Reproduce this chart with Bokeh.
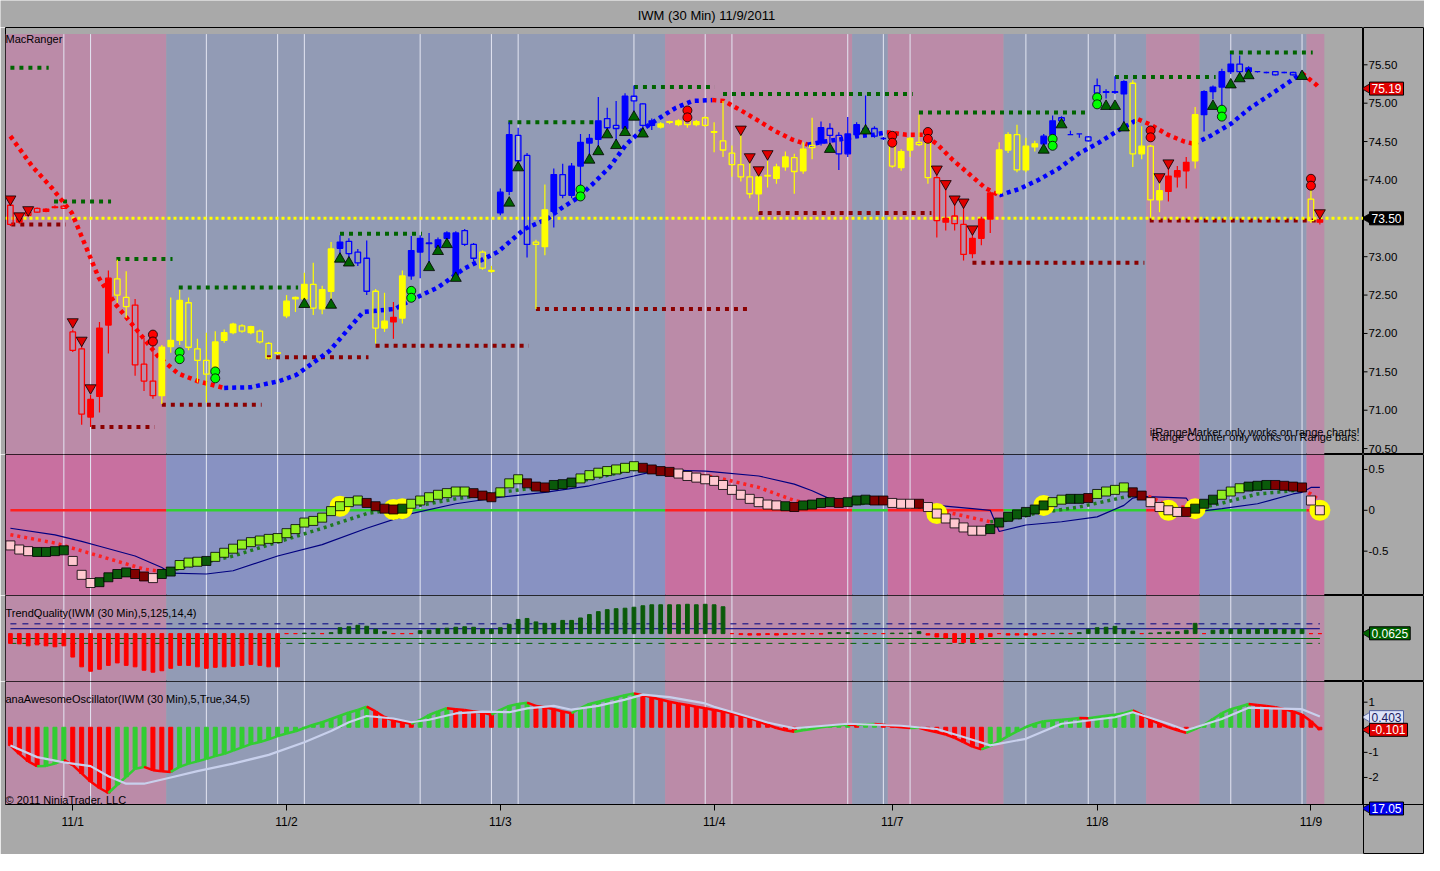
import numpy as np
from bokeh.plotting import figure
from bokeh.layouts import column, row
from bokeh.models import Range1d, FixedTicker, Label
from bokeh.core.properties import value
from bokeh.embed import file_html
from bokeh.resources import INLINE

FONT = "Liberation Sans"
GRAY = "#a9a9a9"

# ---------------- data ----------------
title_text = "IWM (30 Min)  11/9/2011"
day_labels = ["11/1", "11/2", "11/3", "11/4", "11/7", "11/8", "11/9"]
day_ticks = [7, 31, 55, 79, 99, 122, 146]
grid_x = [6, 9, 22, 30, 33, 46, 54, 57, 70, 78, 81, 94, 98, 101, 114, 121, 124, 137, 145]

band_start = [-0.55, 17.5, 73.5, 94.5, 98.5, 111.5, 127.5, 133.5, 145.5]
band_end = [17.5, 73.5, 94.5, 98.5, 111.5, 127.5, 133.5, 145.5, 147.5]
band_state = ["dn", "up", "dn", "up", "dn", "up", "dn", "up", "dn"]

open_ = [73.67, 73.45, 73.58, 73.63, 73.59, 73.64, 73.66, 72.02, 71.80, 70.91,
         71.18, 72.11, 72.71, 72.47, 72.37, 71.60, 71.38, 71.19, 71.83, 71.91,
         72.40, 71.80, 71.65, 71.52, 71.91, 72.01, 72.10, 72.01, 72.03, 71.87,
         71.74, 72.23, 72.45, 72.45, 72.64, 72.32, 72.55, 73.11, 73.20, 73.06,
         72.98, 72.55, 72.07, 72.15, 72.20, 72.75, 73.06, 73.17, 73.12, 73.24,
         72.76, 73.34, 73.16, 73.06, 72.82, 73.57, 73.85, 74.58, 74.32, 73.19,
         73.13, 73.59, 74.07, 73.80, 74.18, 74.48, 74.53, 74.80, 74.71, 74.67,
         75.09, 74.99, 74.71, 74.69, 74.75, 74.72, 74.78, 74.72, 74.81, 74.62,
         74.51, 74.35, 74.20, 74.04, 73.82, 74.05, 74.02, 74.17, 74.29, 74.12,
         74.45, 74.48, 74.67, 74.58, 74.34, 74.59, 74.67, 74.67, 74.54, 74.45,
         74.16, 74.39, 74.49, 74.48, 74.03, 73.45, 73.53, 73.42, 73.04, 73.24,
         73.49, 73.83, 74.39, 74.59, 74.13, 74.43, 74.47, 74.59, 74.81, 74.59,
         74.60, 74.56, 75.23, 75.14, 75.14, 75.12, 75.26, 74.34, 74.44, 73.74,
         73.85, 74.04, 74.12, 74.25, 74.85, 75.15, 75.21, 75.41, 75.51, 75.41,
         75.41, 75.40, 75.41, 75.40, 75.40, 75.36, 73.75, 73.45]
high_ = [73.70, 73.53, 73.60, 73.64, 73.63, 73.67, 73.68, 72.05, 71.85, 71.20,
         72.15, 72.82, 72.96, 72.81, 72.45, 71.94, 71.85, 71.85, 72.47, 72.57,
         72.47, 71.93, 72.01, 72.03, 72.05, 72.14, 72.12, 72.10, 72.05, 71.89,
         71.76, 72.50, 72.48, 72.79, 72.92, 72.62, 73.19, 73.28, 73.24, 73.10,
         73.21, 72.58, 72.53, 72.41, 72.82, 73.27, 73.28, 73.31, 73.25, 73.33,
         73.33, 73.36, 73.18, 73.08, 72.88, 73.89, 74.75, 74.68, 74.35, 73.22,
         73.94, 74.15, 74.21, 74.22, 74.60, 74.60, 75.08, 74.94, 75.03, 75.13,
         75.23, 75.00, 74.80, 74.75, 74.77, 74.79, 74.80, 74.78, 74.83, 74.75,
         75.03, 74.45, 74.62, 74.25, 74.08, 74.25, 74.21, 74.37, 74.34, 74.49,
         74.81, 74.76, 74.74, 74.62, 74.82, 74.75, 75.10, 74.70, 74.56, 74.50,
         74.40, 74.56, 74.85, 74.52, 74.06, 73.92, 73.70, 73.68, 73.28, 73.52,
         73.85, 74.49, 74.62, 74.72, 74.55, 74.51, 74.60, 74.84, 74.83, 74.64,
         74.60, 74.57, 75.32, 75.18, 75.35, 75.30, 75.30, 74.70, 74.46, 74.00,
         74.18, 74.18, 74.30, 74.95, 75.17, 75.23, 75.45, 75.64, 75.62, 75.48,
         75.42, 75.41, 75.42, 75.41, 75.41, 75.38, 73.95, 73.52]
low_ = [73.40, 73.43, 73.52, 73.57, 73.58, 73.63, 73.62, 71.76, 70.81, 70.78,
        70.97, 71.74, 72.40, 72.20, 71.45, 71.25, 71.15, 71.08, 71.75, 71.85,
        71.78, 71.36, 71.10, 71.45, 71.88, 71.99, 72.01, 71.99, 71.87, 71.66,
        71.73, 72.20, 72.28, 72.38, 72.24, 72.25, 72.45, 73.00, 72.95, 72.88,
        72.50, 71.87, 72.02, 71.93, 72.13, 72.70, 72.72, 72.85, 73.05, 73.20,
        72.72, 73.14, 72.94, 72.83, 72.79, 73.54, 73.80, 74.20, 72.99, 72.32,
        73.02, 73.38, 73.76, 73.76, 73.92, 74.30, 74.41, 74.61, 74.46, 74.62,
        74.85, 74.62, 74.65, 74.67, 74.73, 74.70, 74.68, 74.70, 74.69, 74.36,
        74.30, 74.04, 73.98, 73.76, 73.59, 73.90, 73.95, 74.12, 73.82, 74.08,
        74.27, 74.45, 74.47, 74.13, 74.30, 74.55, 74.60, 74.55, 74.52, 74.16,
        74.12, 74.30, 74.44, 73.95, 73.25, 73.34, 73.34, 72.95, 72.98, 73.15,
        73.31, 73.80, 74.35, 74.10, 74.10, 74.37, 74.44, 74.55, 74.76, 74.59,
        74.55, 74.50, 75.10, 75.06, 75.12, 74.69, 74.17, 74.27, 73.51, 73.58,
        73.72, 73.90, 73.89, 74.15, 74.63, 75.05, 74.83, 75.38, 75.38, 75.39,
        75.40, 75.39, 75.36, 75.39, 75.36, 75.34, 73.44, 73.42]
close_ = [73.42, 73.50, 73.54, 73.58, 73.62, 73.65, 73.63, 71.78, 70.95, 71.14,
          72.07, 72.72, 72.50, 72.35, 71.59, 71.38, 71.19, 71.82, 71.91, 72.43,
          71.82, 71.65, 71.47, 71.89, 72.01, 72.12, 72.03, 72.09, 71.89, 71.68,
          71.75, 72.42, 72.47, 72.64, 72.33, 72.57, 73.10, 73.19, 73.04, 72.92,
          72.55, 72.07, 72.16, 72.21, 72.75, 73.08, 73.24, 73.18, 73.22, 73.31,
          73.31, 73.16, 72.98, 72.85, 72.81, 73.84, 74.59, 74.25, 73.16, 73.16,
          73.61, 74.07, 73.80, 74.18, 74.49, 74.54, 74.77, 74.68, 74.67, 75.09,
          75.03, 74.71, 74.77, 74.73, 74.76, 74.77, 74.72, 74.76, 74.71, 74.63,
          74.39, 74.20, 74.04, 73.82, 74.04, 74.06, 74.17, 74.30, 74.11, 74.40,
          74.42, 74.68, 74.58, 74.34, 74.60, 74.72, 74.64, 74.57, 74.54, 74.18,
          74.37, 74.54, 74.46, 74.03, 73.47, 73.50, 73.43, 73.03, 73.24, 73.49,
          73.83, 74.39, 74.59, 74.13, 74.44, 74.47, 74.57, 74.77, 74.77, 74.59,
          74.60, 74.51, 75.13, 75.15, 75.15, 75.28, 74.34, 74.44, 73.74, 73.86,
          74.05, 74.12, 74.23, 74.85, 75.15, 75.21, 75.41, 75.51, 75.41, 75.46,
          75.41, 75.40, 75.37, 75.40, 75.37, 75.36, 73.47, 73.48]
candle_codes = ("RRRRRRRRRRRR" "YY" "RRR" "YYYYYYYYYYYYYYYYYYYY" "BBBB" "YY" "R" "Y"
                "BBBBBBBB" "YY" "BBBB" "YY" "BBBBBBBBBBBB" "YYYYYYYYYYYYYYYYYY"
                "BBBBBBBB" "YYYYY" "RRRRRRR" "YYYYY" "BBBBBBBBBB" "YYYY" "RRR" "Y"
                "BBBBBBBBBBBB" "Y" "R")

price_ticks = [70.5, 71.0, 71.5, 72.0, 72.5, 73.0, 73.5, 74.0, 74.5, 75.0, 75.5]

# support / resistance levels: (price, from bar, to bar)
res_y = [75.46, 73.72, 72.97, 72.60, 73.30, 74.75, 75.21, 75.12, 74.88, 75.34, 75.66]
res_x0 = [0, 4.9, 11.9, 18.9, 37, 55.9, 70, 80, 102, 124, 136.9]
res_x1 = [4.3, 11.3, 18.2, 32.3, 46.2, 65.8, 79.1, 101.3, 121.2, 135.3, 146.2]
sup_y = [73.42, 70.78, 71.07, 71.69, 71.84, 72.32, 73.57, 72.92, 73.47]
sup_x0 = [0.1, 9.1, 17, 28.8, 41, 59, 84, 108, 127.9]
sup_x1 = [6.2, 16.2, 28.2, 40.2, 58.2, 83.2, 103.4, 127.3, 146.9]

# trend line readings
trend_x = [0, 2.5, 4.7, 6.9, 8.4, 9.9, 11.8, 14.3, 16.6, 18.8, 21, 24,
           27, 30.2, 32.1, 35.8, 39.6, 43.2, 44.7, 48, 51, 54.7, 57.7, 60.4, 61.7, 63.6,
           65.4, 67.3, 69.1, 71, 72.9, 74.7, 76.6, 78.8,
           80.1, 82.1, 84, 85.8, 87.7, 89.5,
           91.4, 93.2, 95.1, 96.9, 98.4,
           100.6, 102.5, 104, 105.8, 107.7, 109.5, 111,
           113.2, 115.4, 117.7, 119.9, 122.1, 124.3, 126.6,
           128, 129.9, 131.8, 132.9,
           134.8, 137, 139.2, 141.3, 143.6, 145,
           146.6, 147]
trend_y = [74.57, 74.17, 73.89, 73.57, 73.15, 72.73, 72.38, 72.03, 71.70, 71.48, 71.38, 71.29,
           71.30, 71.38, 71.46, 71.77, 72.28, 72.32, 72.42, 72.60, 72.85, 73.06, 73.36, 73.50,
           73.62, 73.76, 73.95, 74.17, 74.46, 74.66, 74.81, 74.94, 75.03, 75.04,
           75.03, 74.90, 74.77, 74.64, 74.53, 74.46,
           74.50, 74.53, 74.57, 74.59, 74.62,
           74.59, 74.59, 74.47, 74.26, 74.07, 73.89, 73.80,
           73.88, 74.00, 74.15, 74.34, 74.48, 74.64, 74.79,
           74.72, 74.59, 74.50, 74.47,
           74.58, 74.73, 74.94, 75.10, 75.28, 75.39,
           75.24, 75.19]
trend_codes = "R" * 12 + "B" * 22 + "R" * 6 + "B" * 5 + "R" * 7 + "B" * 7 + "R" * 4 + "B" * 6 + "R" * 2

ref_level = 73.50
trend_last = 75.19

dn_tri_x = [0, 1, 2, 7, 8, 9, 82, 83, 84, 85, 104, 105, 106, 107, 108, 129, 130, 147]
dn_tri_y = [73.75, 73.53, 73.61, 72.15, 71.91, 71.29, 74.66, 74.30, 74.13, 74.34,
            74.14, 73.95, 73.75, 73.71, 73.36, 74.04, 74.22, 73.57]
up_tri_x = [33, 36, 37, 38, 47, 48, 49, 50, 56, 57, 65, 66, 67, 68, 69, 70, 71, 92, 96,
            116, 118, 123, 124, 125, 135, 137, 138, 139, 145]
up_tri_y = [72.38, 72.37, 72.97, 72.92, 72.86, 73.07, 73.16, 72.72, 73.70, 74.16,
            74.26, 74.37, 74.59, 74.45, 74.62, 74.82, 74.60, 74.40, 74.64, 74.39,
            74.72, 74.96, 74.96, 74.68, 74.96, 75.24, 75.32, 75.36, 75.35]
red_circ_x = [16, 76, 99, 103, 128, 146]
red_circ_y = [71.94, 74.86, 74.53, 74.58, 74.60, 73.97]
grn_circ_x = [19, 23, 45, 64, 117, 122, 136]
grn_circ_y = [71.71, 71.46, 72.51, 73.83, 74.49, 75.03, 74.87]

# oscillator panel
osc = [-0.43, -0.48, -0.50, -0.51, -0.51, -0.50, -0.49, -0.62, -0.79, -0.89,
       -0.88, -0.82, -0.78, -0.76, -0.78, -0.81, -0.83, -0.78, -0.75, -0.67,
       -0.64, -0.63, -0.62, -0.57, -0.52, -0.47, -0.42, -0.39, -0.37, -0.35,
       -0.34, -0.28, -0.23, -0.15, -0.13, -0.09, -0.01, 0.05, 0.10, 0.12,
       0.09, 0.05, 0.02, 0.01, 0.02, 0.08, 0.12, 0.16, 0.19, 0.21,
       0.23, 0.23, 0.21, 0.18, 0.16, 0.22, 0.33, 0.38, 0.33, 0.29,
       0.28, 0.31, 0.32, 0.34, 0.39, 0.43, 0.46, 0.48, 0.50, 0.52,
       0.54, 0.52, 0.50, 0.48, 0.47, 0.45, 0.42, 0.40, 0.38, 0.36,
       0.31, 0.25, 0.19, 0.14, 0.10, 0.07, 0.06, 0.05, 0.04, 0.06,
       0.07, 0.09, 0.10, 0.09, 0.10, 0.12, 0.13, 0.12, 0.12, 0.09,
       0.08, 0.08, 0.08, 0.04, -0.04, -0.10, -0.16, -0.21, -0.25, -0.25,
       -0.23, -0.15, -0.08, -0.05, -0.02, 0.01, 0.06, 0.10, 0.13, 0.14,
       0.14, 0.15, 0.20, 0.23, 0.25, 0.28, 0.22, 0.18, 0.10, 0.04,
       0.00, -0.02, -0.02, 0.02, 0.08, 0.13, 0.19, 0.23, 0.27, 0.29,
       0.30, 0.31, 0.31, 0.30, 0.29, 0.28, 0.12, 0.00]
osc_codes = ("PPP" "DDDD" "PPP" "DDDD" "RR" "P" "DD" "LLL" "D" "LLLLLLLLLLLLLLLLL"
             "RRRR" "D" "LLLLLLL" "RRR" "LLL" "RRR" "DDD" "LLLLLLL" "RRRR" "PPPP"
             "PPPPPPPP" "D" "R" "DDDD" "R" "DDD" "RR" "PPP" "R" "PPPPPPP" "DDDDDDD"
             "LL" "DD" "R" "LLLL" "RR" "PPPP" "R" "DDD" "LLL" "DDD" "RRRR" "PP")
osc_ticks = [0.5, 0, -0.5]
osc_tick_labels = ["0.5", "0", "-0.5"]
sig_x = [0, 5, 10, 15, 17, 18, 20, 25, 30, 35, 40, 45, 50, 55, 60, 65, 70, 73, 75, 78,
         79, 84, 88, 90, 94, 98, 100, 105, 110, 112, 115, 120, 125, 127, 128, 130, 133,
         135, 140, 145, 146, 147]
sig_y = [-0.30, -0.40, -0.56, -0.72, -0.75, -0.74, -0.68, -0.56, -0.39, -0.22,
         -0.04, 0.04, 0.14, 0.22, 0.29, 0.38, 0.50, 0.50, 0.47, 0.42,
         0.41, 0.28, 0.12, 0.08, 0.08, 0.09, 0.06, -0.02, -0.14, -0.12,
         -0.04, 0.04, 0.16, 0.20, 0.16, 0.06, 0.02, 0.06, 0.20, 0.25, 0.20, 0.12]
nav_x = [0, 5, 8, 10, 14, 17, 18, 22, 25, 30, 35, 40, 45, 50, 55, 60, 65, 70, 72, 75,
         78, 79, 84, 88, 90, 92, 96, 100, 104, 108, 110, 111, 114, 118, 122, 125, 126,
         127, 132, 133, 136, 140, 144, 145, 146, 147]
nav_y = [-0.22, -0.30, -0.38, -0.44, -0.56, -0.70, -0.77, -0.78, -0.74, -0.56,
         -0.42, -0.22, -0.04, 0.08, 0.16, 0.22, 0.30, 0.42, 0.47, 0.49,
         0.48, 0.47, 0.42, 0.32, 0.24, 0.14, 0.12, 0.10, 0.06, 0.02,
         0.00, -0.26, -0.18, -0.14, -0.08, 0.06, 0.15, 0.17, 0.15, -0.02,
         0.02, 0.08, 0.20, 0.22, 0.28, 0.28]
hl_x = [37, 43, 44, 104, 116, 130, 133, 147]

# TrendQuality panel
tq = [-2.0, -2.1, -2.5, -2.3, -2.5, -2.7, -2.5, -4.8, -6.8, -7.7,
      -7.3, -6.5, -6.0, -6.5, -6.8, -7.5, -7.9, -7.6, -7.1, -6.5,
      -6.5, -6.8, -7.1, -6.9, -6.8, -6.7, -6.5, -6.3, -6.5, -6.8,
      -6.8, 0, 0, 0.1, 0.1, 0, 0.2, 1.2, 1.4, 1.7,
      1.5, 0.9, 0.4, 0, 0, 0, 0.6, 0.7, 1.0, 1.1,
      1.3, 1.4, 1.3, 1.0, 0.9, 1.2, 1.9, 2.9, 3.1, 2.4,
      2.1, 2.1, 2.7, 2.7, 3.2, 3.9, 4.5, 4.9, 5.1, 5.2,
      5.4, 5.7, 5.9, 5.9, 5.9, 5.9, 6.0, 5.9, 6.0, 5.9,
      5.5, 0, -0.2, -0.3, -0.3, -0.2, -0.3, -0.2, -0.1, -0.1,
      0, -0.1, 0.2, 0.2, 0.2, 0.1, 0, 0, 0, 0.1,
      0.1, 0.1, 0.4, -0.3, -0.7, -0.9, -1.8, -1.8, -1.8, -1.1,
      -0.6, 0, -0.3, -0.3, -0.3, -0.3, 0, 0, 0.1, 0,
      0.2, 0.9, 1.2, 1.3, 1.5, 0.9, 0.5, 0, 0.1, 0.2,
      0.3, 0.4, 0.7, 2.1, 0, 0.7, 0.8, 0.9, 0.9, 0.9,
      0.9, 0.9, 0.9, 0.9, 0.9, 0.9, 0, 0]
tq_levels = [2, 1, -1, -2]
tq_last = 0.0625

# Awesome oscillator panel
ao = [-0.73, -1.06, -1.36, -1.55, -1.54, -1.45, -1.31, -1.51, -1.84, -2.16,
      -2.42, -2.62, -2.29, -1.97, -1.65, -1.58, -1.71, -1.75, -1.78, -1.58,
      -1.45, -1.36, -1.26, -1.15, -1.06, -0.93, -0.80, -0.67, -0.59, -0.48,
      -0.35, -0.25, -0.16, -0.03, 0.10, 0.20, 0.33, 0.46, 0.59, 0.69,
      0.82, 0.63, 0.41, 0.27, 0.20, 0.14, 0.29, 0.49, 0.63, 0.76,
      0.72, 0.69, 0.63, 0.59, 0.50, 0.69, 0.85, 0.93, 0.98, 0.85,
      0.80, 0.72, 0.63, 0.56, 0.76, 0.93, 1.02, 1.11, 1.19, 1.28,
      1.35, 1.28, 1.19, 1.11, 1.02, 0.95, 0.89, 0.82, 0.76, 0.69,
      0.63, 0.56, 0.46, 0.37, 0.24, 0.10, -0.03, -0.12, -0.18, -0.12,
      -0.07, 0.00, 0.04, 0.08, 0.10, 0.09, 0.12, 0.13, 0.10, 0.04,
      0.00, -0.03, -0.02, -0.12, -0.20, -0.29, -0.42, -0.59, -0.77, -0.88,
      -0.75, -0.55, -0.35, -0.16, 0.01, 0.14, 0.24, 0.27, 0.30, 0.33,
      0.37, 0.36, 0.41, 0.46, 0.50, 0.56, 0.67, 0.50, 0.30, 0.14,
      0.00, -0.12, -0.22, -0.07, 0.10, 0.33, 0.56, 0.72, 0.82, 0.93,
      0.89, 0.85, 0.80, 0.72, 0.63, 0.50, 0.24, -0.10]
ao_ticks = [1, -1, -2]
ao_sig_x = [0, 3, 6, 9, 11, 13, 15, 18, 21, 25, 29, 33, 36, 38, 40, 43, 45, 47, 50, 53,
            56, 58, 61, 63, 66, 69, 71, 74, 78, 79, 85, 88, 94, 100, 104, 107, 110, 114,
            118, 124, 126, 130, 132, 136, 139, 145, 147]
ao_sig_y = [-0.73, -1.19, -1.40, -1.55, -1.95, -2.25, -2.25, -2.0, -1.75, -1.45,
            -1.1, -0.6, -0.15, 0.2, 0.45, 0.35, 0.2, 0.3, 0.55, 0.62,
            0.6, 0.75, 0.85, 0.7, 0.85, 1.1, 1.3, 1.2, 0.95, 0.82,
            0.19, -0.04, 0.14, 0.06, -0.07, -0.39, -0.72, -0.46, 0.14, 0.40,
            0.60, 0.14, -0.12, 0.33, 0.78, 0.72, 0.43]
ao_sig_last = 0.403
ao_last = -0.101
bottom_flag = "17.05"

# ---------------- helpers ----------------
n = len(close_)
idx = np.arange(n)
xr = Range1d(-0.55, 151.9)
FW = 1358
SW = 61          # width of the price-scale strip at the right


def state_at(x):
    for s, e, st in zip(band_start, band_end, band_state):
        if s <= x < e:
            return st
    return band_state[-1]


def runs(xs, ys, codes):
    out = []
    cur_c, cx, cy = codes[0], [xs[0]], [ys[0]]
    for i in range(1, len(xs)):
        if codes[i] != cur_c:
            out.append((cur_c, cx, cy))
            cur_c, cx, cy = codes[i], [xs[i - 1]], [ys[i - 1]]
        cx.append(xs[i])
        cy.append(ys[i])
    out.append((cur_c, cx, cy))
    return out


def make_fig(h, yr, xaxis=False):
    p = figure(frame_width=FW, frame_height=h, x_range=xr, y_range=yr,
               output_backend="svg", toolbar_location=None,
               x_axis_location="below" if xaxis else None, y_axis_location=None,
               min_border_left=5, min_border_right=0, min_border_top=0,
               min_border_bottom=50 if xaxis else 0)
    p.background_fill_color = GRAY
    p.border_fill_color = GRAY
    p.outline_line_color = "black"
    p.outline_line_width = 1
    p.grid.visible = False
    return p


def scale_strip(h, yr, ticks, labels):
    """Right-hand price scale strip sharing the panel's y scale."""
    s = figure(frame_width=SW, frame_height=h, x_range=Range1d(0, SW), y_range=yr,
               output_backend="svg", toolbar_location=None, x_axis_location=None,
               y_axis_location=None, min_border=0)
    s.background_fill_color = GRAY
    s.border_fill_color = GRAY
    s.outline_line_color = "black"
    s.grid.visible = False
    if ticks:
        s.segment(x0=0, x1=4, y0=ticks, y1=ticks, color="black", line_width=1)
        s.text(x=5, y=ticks, text=labels, text_font=value(FONT), text_font_size="11.5px",
               text_baseline="middle", text_color="black")
    return s


def flag(s, y, text, bg, fg="white", border="black"):
    s.scatter([4.5], [y], marker="triangle", angle=np.pi / 2, size=11, fill_color=bg,
              line_color=border, line_width=0.8)
    s.add_layout(Label(x=6, y=y, text=text, text_font=FONT, text_font_size="12px",
                       text_color=fg, text_baseline="middle", background_fill_color=bg,
                       border_line_color=border, padding=2))


def add_bands(p, pink, blue, top=None):
    yb = p.y_range.start
    yt = p.y_range.end if top is None else top
    cols = [pink if s == "dn" else blue for s in band_state]
    p.quad(left=band_start, right=band_end, bottom=yb, top=yt, color=cols, line_color=None)
    p.segment(x0=grid_x, x1=grid_x, y0=yb, y1=yt, color="#e4e6f2", line_width=1)


PINK = "#bb8ba8"
BLUE = "#929bb5"

# ---------------- title ----------------
tfig = figure(frame_width=FW + 5 + SW, frame_height=27, x_range=Range1d(0, 1), y_range=Range1d(0, 1),
              output_backend="svg", toolbar_location=None, x_axis_location=None,
              y_axis_location=None, min_border=0)
tfig.background_fill_color = GRAY
tfig.border_fill_color = GRAY
tfig.outline_line_color = None
tfig.grid.visible = False
tfig.add_layout(Label(x=0.497, y=0.45, text=title_text, text_align="center", text_baseline="middle",
                      text_font=FONT, text_font_size="13px", text_color="black"))

# ---------------- price panel ----------------
price_range = Range1d(70.423, 75.986)
pp = make_fig(427, price_range)
add_bands(pp, PINK, BLUE, top=75.90)

pp.segment(x0=res_x0, x1=res_x1, y0=res_y, y1=res_y, color="#006400", line_width=4,
           line_dash="4 5")
pp.segment(x0=sup_x0, x1=sup_x1, y0=sup_y, y1=sup_y, color="#8b0000", line_width=4,
           line_dash="4 5")
pp.line([xr.start, xr.end], [ref_level, ref_level], color="#ffff00", line_width=3, line_dash="3 3")
for c, xs, ys in runs(trend_x, trend_y, trend_codes):
    pp.line(xs, ys, color="#ff0000" if c == "R" else "#0000ff", line_width=4.5, line_dash="4 4")

cmap = {"R": "#ff0000", "Y": "#ffff00", "B": "#0000ff"}
ccol = [cmap[c] for c in candle_codes]
o = np.array(open_)
cl = np.array(close_)
btop = np.maximum(o, cl)
bbot = np.minimum(o, cl)
falpha = [1.0 if cc > oo else 0.0 for oo, cc in zip(open_, close_)]
pp.segment(x0=idx, x1=idx, y0=btop, y1=np.array(high_), color=ccol, line_width=1.2)
pp.segment(x0=idx, x1=idx, y0=np.array(low_), y1=bbot, color=ccol, line_width=1.2)
pp.vbar(x=idx, top=btop, bottom=bbot, width=0.62, fill_color=ccol, fill_alpha=falpha,
        line_color=ccol, line_width=1.3)

pp.scatter(dn_tri_x, dn_tri_y, marker="inverted_triangle", size=11, fill_color="#e00000",
           line_color="black", line_width=0.8)
pp.scatter(up_tri_x, up_tri_y, marker="triangle", size=11, fill_color="#006400",
           line_color="black", line_width=0.8)
for dy in (0.045, -0.045):
    pp.scatter(red_circ_x, [v + dy for v in red_circ_y], marker="circle", size=9,
               fill_color="#ff0000", line_color="black", line_width=0.8)
    pp.scatter(grn_circ_x, [v + dy for v in grn_circ_y], marker="circle", size=9,
               fill_color="#00ff00", line_color="black", line_width=0.8)

pp.add_layout(Label(x=xr.start, y=price_range.end, x_offset=0, y_offset=-5, text="MacRanger",
                    text_font=FONT, text_font_size="11px", text_baseline="top", text_color="black"))
pp.add_layout(Label(x=xr.end, y=70.64, x_offset=-4, text="itRangeMarker only works on range charts!",
                    text_font=FONT, text_font_size="11px", text_align="right",
                    text_baseline="bottom", text_color="black"))
pp.add_layout(Label(x=xr.end, y=70.57, x_offset=-4, text="Range Counter only works on Range bars.",
                    text_font=FONT, text_font_size="11px", text_align="right",
                    text_baseline="bottom", text_color="black"))

sp = scale_strip(427, price_range, price_ticks, [f"{t:.2f}" for t in price_ticks])
flag(sp, trend_last, f"{trend_last:.2f}", "#e00000")
flag(sp, ref_level, f"{ref_level:.2f}", "#000000")

# ---------------- oscillator panel ----------------
osc_range = Range1d(-1.043, 0.683)
po = make_fig(141, osc_range)
add_bands(po, "#c870a0", "#8892c2")
for s, e, st in zip(band_start, band_end, band_state):
    po.line([max(s, 0), min(e, n - 1)], [0, 0], color="#ff2020" if st == "dn" else "#30d030",
            line_width=2.5)
po.line(nav_x, nav_y, color="#000080", line_width=1.2)
sig_codes = [state_at(x) for x in sig_x]
for c, xs, ys in runs(sig_x, sig_y, sig_codes):
    po.line(xs, ys, color="#ff2020" if c == "dn" else "#1f7a1f", line_width=3.5, line_dash="3 4")
po.scatter(hl_x, [osc[i] for i in hl_x], marker="circle", size=21, fill_color="#ffff00",
           line_color=None)
ocmap = {"P": "#ffc8d0", "D": "#0a5a0a", "L": "#90f020", "R": "#800000"}
po.scatter(idx, osc, marker="square", size=9, fill_color=[ocmap[c] for c in osc_codes],
           line_color="black", line_width=0.8)
so = scale_strip(141, osc_range, osc_ticks, osc_tick_labels)

# ---------------- trend quality panel ----------------
tq_range = Range1d(-9.8, 7.8)
pq = make_fig(86, tq_range)
add_bands(pq, PINK, BLUE)
lvl_col = ["#000080", "#000080", "#006400", "#006400"]
lvl_dash = ["dashed", "solid", "solid", "dashed"]
for lv, lc, ld in zip(tq_levels, lvl_col, lvl_dash):
    pq.line([0, n - 1], [lv, lv], color=lc, line_width=1, line_dash=ld)
tq_cols = ["#0a5a0a" if v > 0 else "#ff0000" for v in tq]
pq.vbar(x=idx, top=tq, bottom=0, width=0.42, color=tq_cols)
pq.add_layout(Label(x=xr.start, y=tq_range.end, x_offset=0, y_offset=-11,
                    text="TrendQuality(IWM (30 Min),5,125,14,4)", text_font=FONT,
                    text_font_size="11px", text_baseline="top", text_color="black"))
sq = scale_strip(86, tq_range, [], [])
flag(sq, tq_last, f"{tq_last:.4f}", "#006400")

# ---------------- awesome oscillator panel ----------------
ao_range = Range1d(-3.078, 1.824)
AOH = 123
AXH = 50
pa = make_fig(AOH, ao_range, xaxis=True)
add_bands(pa, PINK, BLUE)
ao_cols = ["#32cd32" if (i > 0 and ao[i] > ao[i - 1]) else "#ff0000" for i in range(n)]
pa.vbar(x=idx, top=ao, bottom=0, width=0.45, color=ao_cols)
pa.segment(x0=idx[:-1], y0=ao[:-1], x1=idx[1:], y1=ao[1:], color=ao_cols[1:], line_width=2.5)
pa.line(ao_sig_x, ao_sig_y, color="#c8d0ec", line_width=2.2)
pa.add_layout(Label(x=xr.start, y=ao_range.end, x_offset=0, y_offset=-11,
                    text="anaAwesomeOscillator(IWM (30 Min),5,True,34,5)", text_font=FONT,
                    text_font_size="11px", text_baseline="top", text_color="black"))
pa.add_layout(Label(x=xr.start, y=ao_range.start, x_offset=0, y_offset=-1,
                    text="\u00a9 2011 NinjaTrader, LLC", text_font=FONT,
                    text_font_size="11px", text_baseline="bottom", text_color="black"))
pa.xaxis.ticker = FixedTicker(ticks=day_ticks)
pa.xaxis.major_label_overrides = {t: l for t, l in zip(day_ticks, day_labels)}
pa.xaxis.axis_line_color = "black"
pa.xaxis.major_tick_in = 0
pa.xaxis.major_tick_out = 6
pa.xaxis.minor_tick_line_color = None
pa.xaxis.major_label_text_font = FONT
pa.xaxis.major_label_text_font_size = "12px"
pa.xaxis.major_label_text_color = "black"
pa.xaxis.major_label_standoff = 4

# the AO scale strip also covers the date-axis band below the panel
per_px = (ao_range.end - ao_range.start) / AOH
ao_strip_range = Range1d(ao_range.start - AXH * per_px, ao_range.end)
sa = scale_strip(AOH + AXH, ao_strip_range, ao_ticks, [str(t) for t in ao_ticks])
sa.line([0, SW], [ao_range.start, ao_range.start], color="black", line_width=1)
flag(sa, ao_sig_last, f"{ao_sig_last:.3f}", "#dce3f8", fg="#1a1a60", border="#5060a0")
flag(sa, ao_last, f"{ao_last:.3f}", "#e00000")
flag(sa, ao_range.start - 4 * per_px, bottom_flag, "#0000ee")

layout = column(tfig, row(pp, sp, spacing=0), row(po, so, spacing=0),
                row(pq, sq, spacing=0), row(pa, sa, spacing=0), spacing=0)
open("out.html", "w").write(file_html(layout, INLINE))
